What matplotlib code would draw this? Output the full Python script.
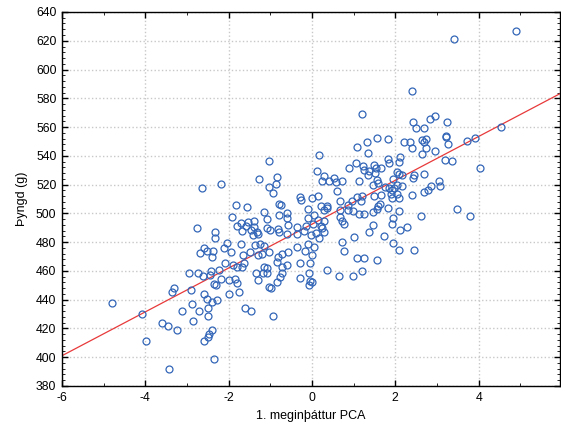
import numpy as np
import matplotlib
matplotlib.use("Agg")
from matplotlib import pyplot as plt
from matplotlib.ticker import MultipleLocator

# 1. meginþáttur PCA (x) and Þyngd (g) (y)
pca1 = [
    # upper right
    2.39, 1.19, 2.43, 2.49, 2.68, 2.84, 2.96, 3.40, 4.90, 3.25, 4.54, 3.21,
    1.09, 1.33, 1.57, 1.83, 2.21, 2.35, 2.39, 2.64, 2.74, 2.70, 2.73, 2.95,
    1.35, 0.18, 2.63, 2.11, 2.08, 1.83, 1.84, 1.06, 1.23, 1.25, 1.49, 1.54,
    1.52, 1.66, 1.38, 1.35, 0.90, 0.11, 0.29, 0.41, 0.25, 0.54, 0.58, 0.72,
    1.14, 2.04, 2.10, 1.95, 1.55, 1.58, 2.15, 2.46, 2.42, 2.70,
    # middle right
    1.46, 1.75, 1.85, 1.91, 1.97, 2.05, 2.15, 2.86, 2.78, 2.69, 2.39, 2.04,
    2.08, 1.89, 1.93, 1.66, 1.50, 1.21, 1.09, 1.18, 0.96, 0.60, 0.67, 0.15,
    0.00, 0.21, 0.35, 0.30, 0.37, 0.86, 0.86, 0.99, 0.68, 1.14, 1.25, 1.46,
    1.59, 1.55, 1.63, 1.83, 1.95, 1.93, 2.08, 2.62, 0.06, 0.14, 0.29, 0.22,
    0.25, 0.02, 0.10, 0.29, 0.16, 0.67, 0.73, 0.77, 1.46, 1.37, 2.27, 2.11,
    1.74, 1.02, 0.73, 1.94, 0.06, 0.78, 2.09, 2.45, 1.08, 1.25, 0.00, 1.55,
    3.21, 3.26, 3.72, 3.92, 3.19, 3.37, 4.04, 3.05, 3.08, 3.49, 3.80,
    # lower right
    0.00, 0.37, 0.64, 0.99, 1.21,
    # middle left
    -1.03, -1.26, -0.85, -1.03, -0.87, -0.94, -2.63, -2.18, -0.28, -0.26,
    -1.82, -1.56, -0.80, -0.74, -0.10, -1.15, -0.80, -0.61, -1.92, -0.10,
    -1.09, -0.59, -1.71, -1.53, -1.39, -1.79, -1.58, -1.39, -1.69, -1.47,
    -2.75, -2.33, -2.32, -1.42, -1.31, -1.30, -1.09, -1.00, -0.79, -0.81,
    -0.57, -0.61, -0.35, -0.18, -0.36, -0.14, -2.03, -2.11, -1.71, -1.37,
    -1.25, -1.15, -2.58, -2.68, -2.53, -2.38, -2.39, -1.95, -1.65, -1.49,
    -1.30, -1.19, -1.02, -0.81, -0.71, -0.58, -0.36, -0.10, -0.16, -0.03,
    -0.84,
    # lower left
    -2.96, -2.74, -2.61, -2.43, -2.45, -2.24, -2.08, -1.89, -1.79, -1.67,
    -1.63, -1.35, -1.18, -1.09, -1.14, -1.07, -0.73, -0.61, -0.72, -0.76,
    -0.84, -0.28, -0.04, -0.06, -0.29, -0.04, -0.06, -2.90, -2.36, -2.30,
    -2.18, -1.99, -1.79, -1.85, -1.99, -1.75, -1.29, -1.03, -0.99, -2.59,
    -2.52, -2.39, -2.28, -2.88, -2.49, -2.49, -2.72, -2.85, -1.61, -1.47,
    -0.94, -2.39, -2.46, -2.49, -2.59, -2.35,
    # far left
    -4.80, -3.32, -3.35, -4.08, -3.11, -3.59, -3.45, -3.25, -3.99, -3.42,
]
thyngd = [
    585.1, 568.8, 563.5, 559.6, 559.6, 565.4, 567.7, 621.5, 626.6, 563.5, 559.8, 554.0,
    546.4, 549.4, 552.4, 551.7, 549.8, 549.4, 545.7, 551.2, 551.7, 549.4, 545.2, 543.3,
    542.2, 540.6, 541.0, 539.4, 536.0, 537.6, 534.8, 534.8, 533.2, 530.1, 533.6, 531.3,
    528.0, 531.5, 529.7, 526.9, 531.3, 529.4, 526.0, 522.7, 522.7, 524.8, 522.0, 522.5,
    522.7, 528.5, 527.1, 523.9, 523.0, 521.3, 526.6, 526.6, 524.3, 527.1,
    519.7, 518.5, 517.4, 516.2, 517.4, 519.7, 519.0, 518.8, 516.2, 515.1, 512.7, 513.7,
    510.4, 513.2, 510.4, 512.7, 512.1, 512.3, 511.1, 508.4, 508.8, 515.5, 508.6, 512.3,
    510.4, 505.1, 504.9, 502.3, 503.5, 505.8, 502.3, 501.6, 502.5, 499.3, 499.3, 500.7,
    505.1, 503.0, 506.2, 504.0, 497.0, 492.8, 501.6, 497.9, 498.8, 495.4, 494.9, 491.4,
    490.0, 492.4, 486.1, 486.8, 483.1, 497.7, 494.7, 492.4, 491.9, 487.2, 490.7, 488.4,
    484.5, 483.8, 480.3, 479.1, 476.4, 473.8, 474.3, 474.3, 468.7, 468.7, 471.0, 467.3,
    553.3, 548.0, 550.5, 552.4, 536.9, 536.4, 531.8, 522.5, 519.2, 503.2, 497.9,
    452.2, 460.6, 456.6, 456.6, 459.9,
    536.4, 523.9, 525.0, 518.1, 520.4, 514.1, 517.4, 520.6, 511.6, 509.3,
    505.6, 504.4, 506.3, 505.6, 502.8, 500.9, 499.1, 500.5, 497.2, 496.8,
    495.8, 496.5, 493.0, 493.7, 494.7, 491.0, 491.4, 490.5, 487.9, 488.6,
    490.0, 486.8, 483.1, 484.7, 486.8, 485.4, 489.6, 488.4, 487.2, 489.3,
    491.9, 485.8, 490.5, 487.5, 485.8, 491.2, 479.6, 476.1, 478.4, 478.0,
    478.9, 477.1, 475.9, 472.6, 473.8, 473.6, 469.6, 472.9, 471.0, 472.9,
    471.2, 471.7, 473.3, 469.9, 471.5, 473.3, 476.8, 478.4, 473.8, 484.9,
    466.5,
    458.3, 458.7, 456.4, 460.1, 457.1, 460.6, 465.2, 463.8, 462.4, 462.9,
    465.2, 458.7, 458.3, 458.3, 462.4, 461.7, 462.4, 464.1, 458.3, 456.0,
    452.5, 465.7, 465.2, 458.7, 454.8, 453.2, 450.2, 446.7, 450.9, 450.2,
    454.1, 453.6, 451.8, 454.1, 443.9, 445.0, 453.6, 449.0, 447.8, 443.9,
    440.2, 438.6, 439.7, 436.7, 433.9, 428.6, 432.1, 425.4, 433.9, 432.1,
    428.8, 418.9, 416.1, 414.2, 411.4, 398.9,
    437.9, 447.8, 445.0, 430.2, 432.1, 423.7, 421.9, 419.1, 411.4, 391.7,
]

x = np.array(pca1)
y = np.array(thyngd)

plt.rcParams['font.family'] = ['Liberation Sans', 'DejaVu Sans']
plt.rcParams['axes.unicode_minus'] = False

fig = plt.figure(figsize=(5.61, 4.36), dpi=100)
ax = fig.add_axes([0.1105, 0.1147, 0.8875, 0.8578])

ax.plot(x, y, 'o', mfc='none', mec='#3366b8', mew=0.9, ms=5.0, zorder=3)

# linear fit through the points
slope, icept = np.polyfit(x, y, 1)
xl = np.array([-6.0, 5.95])
ax.plot(xl, icept + slope * xl, color='#e8393a', lw=0.9, zorder=2)

ax.set_xlim(-6, 5.95)
ax.set_ylim(380, 640)
ax.xaxis.set_major_locator(MultipleLocator(2))
ax.xaxis.set_minor_locator(MultipleLocator(1))
ax.yaxis.set_major_locator(MultipleLocator(20))
ax.yaxis.set_minor_locator(MultipleLocator(4))
ax.tick_params(which='both', direction='in', top=True, right=True,
               labelsize=8.8, pad=4)
ax.tick_params(which='major', length=4, width=1)
ax.tick_params(which='minor', length=2, width=0.6)
ax.grid(True, which='major', color='#c8c8c8', linestyle=':', linewidth=1.0)
ax.set_axisbelow(True)
for s in ax.spines.values():
    s.set_linewidth(1.0)

ax.set_xlabel('1. meginþáttur PCA', fontsize=9, labelpad=5)
ax.set_ylabel('Þyngd (g)', fontsize=9, labelpad=6)

fig.savefig('out.png', dpi=100)
